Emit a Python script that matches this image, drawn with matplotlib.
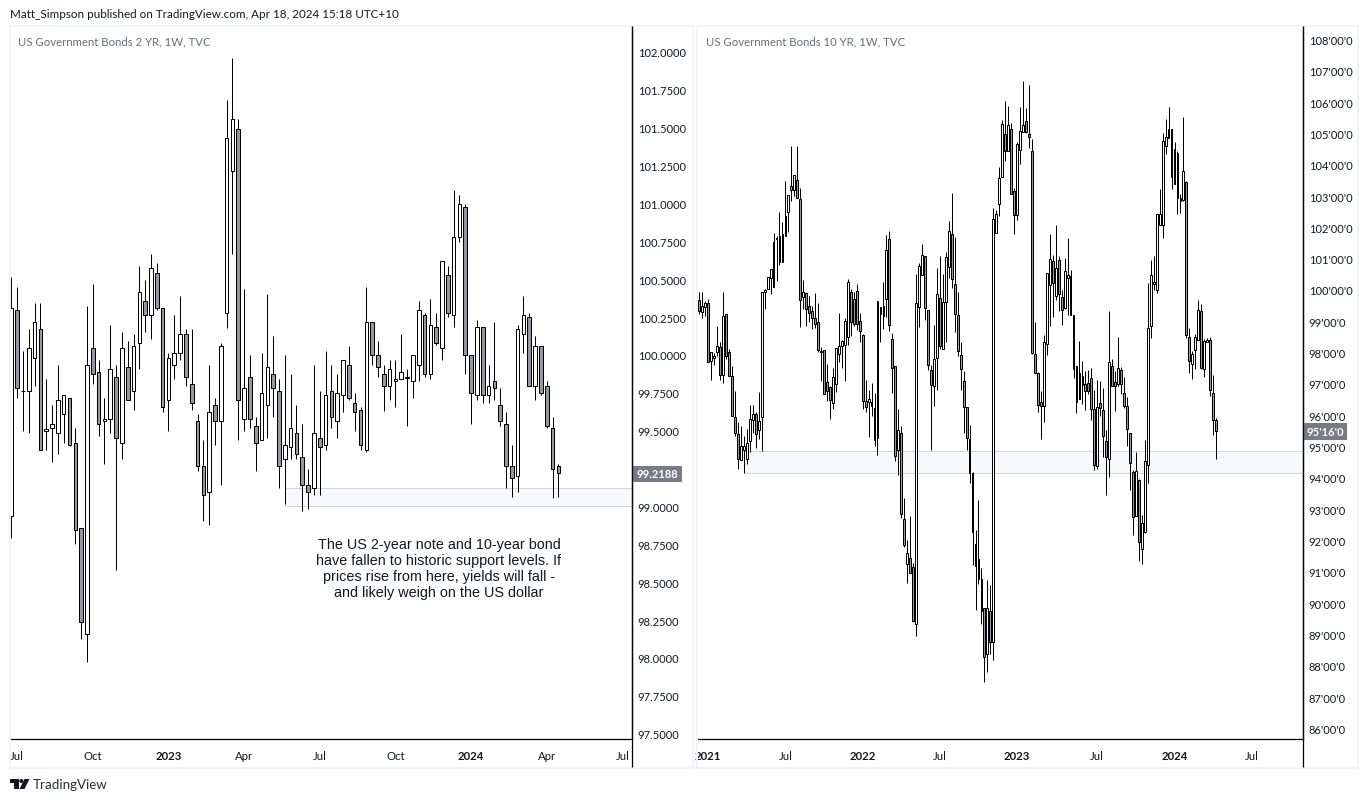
import matplotlib
matplotlib.use("Agg")
import matplotlib.pyplot as plt
from matplotlib.patches import Rectangle, Polygon, Circle

# ---- 2 YR weekly candles ----
high_2y = [100.513,100.447,100.026,100.172,100.341,100.341,99.842,99.67,99.934,99.734,
 99.714,99.518,98.856,100.323,100.469,99.967,99.716,100.198,99.934,100.152,
 100.092,100.139,100.587,100.495,100.667,100.607,100.308,100.011,100.264,100.389,
 100.172,100.172,99.611,99.439,99.934,99.716,100.079,101.683,101.96,101.558,
 100.436,100,99.589,100.013,100.403,100.125,99.842,100,99.875,99.67,
 99.545,99.248,99.934,99.762,100.026,99.934,99.875,99.965,100.059,99.749,
 99.655,100.449,100.216,100.092,99.934,99.967,99.967,100.139,99.908,99.998,
 100.356,100.275,100.367,100.275,100.618,100.585,101.089,101.056,100.997,99.998,
 100.231,100.183,99.934,100.218,99.782,99.624,99.406,100.198,100.389,100.275,
 100.125,100.057,99.828,99.591,99.281]
top_2y = [100.308,100.295,99.76,100.044,100.216,100.169,99.514,99.542,99.701,99.734,
 99.714,99.417,98.856,99.932,100.044,99.886,99.575,99.905,99.853,100.044,
 99.919,100.057,100.414,100.354,100.572,100.539,100.308,99.978,100.011,100.136,
 100.136,99.806,99.562,99.265,99.622,99.668,100.057,101.43,101.555,101.489,
 99.78,99.853,99.529,99.747,99.919,99.872,99.76,99.404,99.516,99.483,
 99.325,99.14,99.483,99.45,99.734,99.76,99.747,99.965,99.932,99.681,
 99.635,100.216,100.216,99.998,99.872,99.905,99.839,99.886,99.853,99.998,
 100.295,100.262,100.196,100.183,100.618,100.526,100.777,100.994,100.975,99.998,
 100.183,100.183,99.793,99.826,99.668,99.542,99.265,100.169,100.262,100.249,
 100.057,100.057,99.793,99.516,99.265]
bottom_2y = [98.935,99.78,99.76,99.76,99.978,99.371,99.496,99.516,99.483,99.608,
 99.404,98.843,98.236,98.156,99.872,99.542,99.562,99.575,99.45,99.417,
 99.701,99.76,100.077,100.262,100.262,100.308,99.655,99.701,99.932,100.011,
 99.853,99.681,99.265,99.074,99.094,99.562,99.562,100.275,101.212,99.701,
 99.575,99.575,99.417,99.437,99.668,99.78,99.265,99.311,99.391,99.344,
 99.14,99.094,99.12,99.391,99.404,99.589,99.562,99.734,99.714,99.622,
 99.404,99.371,99.998,99.919,99.793,99.793,99.826,99.839,99.85,99.826,
 99.932,99.872,99.872,100.077,100.044,100.275,100.262,100.777,99.998,99.747,
 99.734,99.734,99.734,99.78,99.562,99.265,99.186,99.199,100.136,99.793,
 99.793,99.747,99.529,99.245,99.219]
low_2y = [98.79,99.718,99.501,99.487,99.798,99.371,99.375,99.296,99.349,99.421,
 99.397,98.755,98.128,97.976,99.811,99.468,99.283,99.487,98.583,99.316,
 99.701,99.639,99.91,100.154,100.108,100.299,99.626,99.501,99.844,99.969,
 99.798,99.639,99.237,98.907,98.88,99.408,99.144,100.176,100.669,99.441,
 99.501,99.52,99.237,99.437,99.454,99.593,99.124,99.019,99.316,99.316,
 98.973,98.986,99.078,99.078,99.375,99.52,99.454,99.626,99.705,99.501,
 99.375,99.362,99.934,99.855,99.628,99.705,99.659,99.839,99.534,99.718,
 99.831,99.857,99.844,100.064,99.969,100.253,100.187,100.746,99.875,99.547,
 99.705,99.685,99.685,99.705,99.531,99.124,99.065,99.098,100.015,99.793,
 99.705,99.738,99.52,99.054,99.065]
up_weeks_2y = [0,2,3,4,6,7,8,9,13,16,17,19,21,22,24,27,28,29,34,36,37,38,40,43,44,47,48,
 52,54,56,57,61,65,66,67,68,69,70,72,74,76,77,80,82,87,88,90]

# ---- 10 YR weekly candles ----
high_10y = [99.93,99.94,99.66,99.71,98.01,97.99,98.86,98.33,99.94,99.22,
 98.12,97.56,96.77,95.77,95.67,95.35,95.56,96.33,96.33,96.11,
 96.73,99.94,100.03,100.40,100.67,101.82,101.71,102.48,102.16,103.48,
 103.03,104.59,103.68,104.61,103.25,100.32,99.93,99.82,99.50,99.90,
 99.58,98.17,98.09,97.64,96.92,97.52,98.14,99.27,98.40,99.10,
 100.35,100.03,99.93,100.19,99.27,98.58,97.13,96.81,97.03,96.70,
 99.64,99.47,100.24,101.76,101.88,98.63,97.56,96.20,95.65,93.36,
 92.02,92.78,91.28,100.51,100.85,101.47,101.10,99.36,97.60,98.88,
 100.71,101.10,100.52,101.22,102.21,103.11,101.70,99.94,98.34,97.42,
 96.26,95.70,94.19,92.35,93.30,91.12,89.85,90.73,90.58,102.62,
 102.57,103.92,105.43,106.03,105.88,105.33,103.27,104.71,105.84,106.67,
 105.81,106.54,104.81,98.98,97.38,96.76,98.57,100.54,101.79,101.13,
 102.08,101.10,100.01,101.01,101.66,100.65,99.21,97.57,98.38,97.72,
 97.42,97.44,97.52,96.80,97.12,97.08,96.87,95.54,99.34,97.80,
 97.42,98.51,97.54,97.21,96.58,95.45,94.24,94.84,93.96,92.83,
 95.22,100.22,100.97,101.08,102.42,103.21,105.00,105.45,105.83,105.13,
 104.72,104.43,103.08,105.53,103.47,98.79,98.04,98.60,99.69,99.56,
 98.44,98.47,98.49,97.28,95.92]
top_10y = [99.69,99.48,99.57,99.57,98.01,97.90,98.20,98.17,99.16,99.22,
 98.01,97.27,95.93,95.39,95.01,95.03,95.10,95.87,96.03,96.03,
 95.81,99.94,100.00,100.40,100.67,101.52,101.66,101.71,101.78,102.37,
 103.03,103.31,103.66,103.52,102.91,99.93,99.89,99.48,99.32,99.10,
 98.97,98.06,98.08,97.05,96.89,97.21,98.14,98.22,98.36,99.00,
 100.24,99.93,99.71,99.96,99.00,98.56,96.45,96.51,96.41,96.22,
 99.64,99.45,99.48,101.28,101.63,98.43,97.56,95.52,95.45,92.68,
 91.60,91.43,91.14,99.57,100.76,101.13,101.09,99.35,97.44,97.79,
 99.88,99.75,99.62,101.04,101.88,101.79,100.19,99.21,97.92,97.08,
 96.26,95.25,94.17,91.89,91.40,90.76,89.84,89.84,89.75,102.26,
 102.42,103.57,105.29,104.98,105.26,105.13,103.15,104.66,105.07,105.26,
 105.39,104.97,104.45,97.95,97.36,96.42,98.33,100.53,100.98,100.92,
 100.71,100.95,99.78,100.60,100.47,100.44,99.20,97.56,97.34,97.25,
 96.99,97.02,97.19,96.21,96.26,96.39,96.16,95.19,97.70,97.57,
 97.06,97.52,97.45,96.71,96.29,95.43,94.19,94.21,93.92,92.55,
 94.53,98.78,100.47,100.26,102.42,102.42,104.77,104.88,105.13,105.13,
 104.49,104.39,102.93,103.80,103.44,98.49,97.97,98.49,99.35,99.33,
 98.36,98.40,98.40,96.71,95.85]
bottom_10y = [99.34,99.31,99.46,97.69,97.72,97.84,98.03,97.30,97.30,97.90,
 97.27,95.97,95.45,94.62,94.56,94.90,94.62,95.17,95.84,95.39,
 95.52,95.93,99.95,100.03,100.37,100.08,101.62,100.88,100.88,101.73,
 102.48,103.18,103.18,102.95,99.68,99.79,99.39,99.27,99.12,98.91,
 98.09,98.01,96.67,96.76,96.50,96.38,97.01,97.95,98.22,98.24,
 98.49,98.97,98.90,98.90,98.70,96.47,96.27,96.41,96.30,95.22,
 95.28,99.22,99.16,99.71,98.89,97.50,94.71,94.88,92.84,91.87,
 91.26,90.98,89.44,89.34,99.45,100.49,99.41,97.59,96.98,96.93,
 97.83,98.21,98.12,99.62,100.72,100.34,99.22,98.04,97.49,96.25,
 95.28,94.16,92.28,91.20,90.78,89.75,88.29,88.38,88.76,88.76,
 101.81,102.75,103.60,104.45,104.45,103.06,102.38,102.40,104.48,105.04,
 105.06,104.90,97.98,97.36,96.33,96.30,96.30,98.26,100.15,100.21,
 99.81,99.88,99.37,99.42,100.38,99.21,97.48,96.43,96.52,96.97,
 96.76,96.78,96.19,94.40,94.37,96.22,95.33,94.66,94.62,96.93,
 96.93,97.01,96.99,96.31,95.56,94.47,92.75,92.80,91.96,91.74,
 92.28,94.40,98.84,100.20,100.01,102.06,102.07,104.61,104.85,103.61,
 103.38,102.95,102.83,102.86,98.56,97.74,97.63,98.08,98.40,97.51,
 97.49,98.34,96.80,95.84,95.50]
low_10y = [99.23,99.12,99.18,97.69,97.14,97.60,97.90,97.14,97.04,97.80,
 97.27,95.97,95.35,94.28,94.56,94.16,94.43,94.82,95.45,94.97,
 95.24,94.87,99.39,100.03,99.88,100.08,100.30,100.80,100.88,101.73,
 101.86,102.85,103.01,102.93,98.83,99.39,98.86,98.97,98.75,98.78,
 98.03,97.09,96.67,96.47,95.89,96.20,96.73,97.71,97.51,97.10,
 98.24,98.52,98.86,98.71,98.33,96.20,96.11,95.32,95.99,95.03,
 94.74,98.33,98.75,99.13,98.70,96.71,94.55,94.10,92.72,91.79,
 90.65,90.98,89.39,88.96,98.83,100.49,99.05,97.46,94.88,96.31,
 96.80,98.12,98.12,98.34,100.39,100.06,98.67,97.88,96.80,95.45,
 94.88,93.85,91.23,89.78,90.62,89.33,87.48,87.80,88.37,88.19,
 101.81,102.35,103.60,104.11,104.45,103.06,101.80,102.25,104.02,105.04,
 105.00,104.53,97.95,97.36,96.12,95.25,95.80,97.94,98.85,99.13,
 99.69,99.33,98.87,99.40,99.21,99.21,97.19,96.06,96.52,96.35,
 96.16,96.67,95.84,94.24,94.30,95.98,94.66,93.44,94.04,96.93,
 96.13,96.93,96.67,96.22,95.01,93.63,92.19,92.80,91.35,91.25,
 92.25,93.85,98.47,100.01,99.92,102.06,101.65,104.33,104.85,103.21,
 103.37,102.44,102.47,102.85,98.47,97.34,97.17,97.47,98.39,97.49,
 97.22,98.34,96.61,95.37,94.60]
up_weeks_10y = [1,2,4,5,6,8,14,15,16,17,18,20,21,22,23,24,25,26,28,29,30,32,35,45,46,47,48,49,50,
 57,58,60,61,63,67,70,73,74,75,79,80,82,83,84,97,99,100,101,102,104,107,108,109,116,117,118,
 120,123,124,128,134,138,141,147,149,150,151,152,153,154,155,156,157,158,160,163,166,167,168,170,171]

# ---- axis text and levels ----
ticks_2y = [97.5,97.75,98.0,98.25,98.5,98.75,99.0,99.25,99.5,99.75,100.0,100.25,100.5,100.75,
 101.0,101.25,101.5,101.75,102.0]
ticks_10y = list(range(86, 109))
xpos_2y = [1,14,27,40,53,66,79,92,105]
xlab_2y = ["Jul","Oct","2023","Apr","Jul","Oct","2024","Apr","Jul"]
xpos_10y = [3,29,55,81,107,134,160,186]
xlab_10y = ["2021","Jul","2022","Jul","2023","Jul","2024","Jul"]
zone_2y = (47, 99.003, 99.122)
zone_10y = (15, 94.155, 94.86)

FONT = "Lato"
W, H = 1368, 803
TEXT = "#131722"
GREY = "#787b86"
DOWN = "#9598a1"
plt.rcParams["font.family"] = FONT
fig = plt.figure(figsize=(W/100, H/100), dpi=100, facecolor="white")


def panel(l, r, t, b):
    return fig.add_axes([l/W, 1-b/H, (r-l)/W, (b-t)/H])


def draw(ax, highs, tops, bottoms, lows, ups, width, zone, ticks, fmt, xpos, xlab):
    xs = list(range(len(highs)))
    ax.vlines(xs, lows, highs, colors="black", linewidth=0.72, zorder=3)
    face = ["white" if i in ups else DOWN for i in xs]
    ax.bar(xs, [t-b for t, b in zip(tops, bottoms)], bottom=bottoms, width=width,
           color=face, edgecolor="black", linewidth=0.72, zorder=4)
    x0 = zone[0]
    ax.add_patch(Rectangle((x0, zone[1]), ax.get_xlim()[1]-x0, zone[2]-zone[1],
                           facecolor="#f8f9fd", edgecolor="#d1d4dc", linewidth=0.72, zorder=1))
    ax.yaxis.tick_right()
    ax.set_yticks(ticks)
    ax.set_yticklabels([fmt(v) for v in ticks], fontsize=8, color=TEXT)
    ax.set_xticks(xpos)
    ax.set_xticklabels(xlab, fontsize=8.2, color=TEXT)
    for lab in ax.get_xticklabels():
        if lab.get_text().isdigit():
            lab.set_fontweight("bold")
    ax.tick_params(length=0, axis="y", pad=4.5)
    ax.tick_params(length=0, axis="x", pad=8)
    for s in ("top", "left"):
        ax.spines[s].set_visible(False)
    for s in ("right", "bottom"):
        ax.spines[s].set_linewidth(0.9)
        ax.spines[s].set_color("black")


# left: 5.82 px per week, first candle at 11.3 px; y: 151.5 px per point, 100 at 356 px
ax1 = panel(10.5, 631.5, 27, 740)
ax1.set_xlim((10.5-11.3)/5.82, (631.5-11.3)/5.82)
ax1.set_ylim(100-(740-356)/151.5, 100+(356-27)/151.5)
draw(ax1, high_2y, top_2y, bottom_2y, low_2y, set(up_weeks_2y), 0.62, zone_2y,
     ticks_2y, lambda v: f"{v:.4f}", xpos_2y, xlab_2y)

# right: 2.97 px per week, first candle at 699.3 px; y: 31.32 px per point, 95 at 447.6 px
ax2 = panel(698, 1302.5, 27, 740)
ax2.set_xlim((698-699.3)/2.97, (1302.5-699.3)/2.97)
ax2.set_ylim(95-(740-447.6)/31.32, 95+(447.6-27)/31.32)
draw(ax2, high_10y, top_10y, bottom_10y, low_10y, set(up_weeks_10y), 0.62, zone_10y,
     ticks_10y, lambda v: f"{v}'00'0", xpos_10y, xlab_10y)

# overlay in pixel coordinates for frames, titles, tags
ov = fig.add_axes([0, 0, 1, 1], zorder=10)
ov.set_xlim(0, W)
ov.set_ylim(H, 0)
ov.axis("off")
ov.patch.set_alpha(0)
for (x0, x1) in ((9.5, 693), (697, 1358)):
    ov.add_patch(Rectangle((x0, 27), x1-x0, 741.5, fill=False, edgecolor="#f0f3fa", linewidth=1.5))
for x in (631.5, 1302.5):
    ov.plot([x, x], [27, 768], color="black", lw=0.9, solid_capstyle="butt")

ov.text(10, 14, "Matt_Simpson published on TradingView.com, Apr 18, 2024 15:18 UTC+10",
        fontsize=8.4, color=TEXT, va="center", ha="left")
ov.text(18, 41.5, "US Government Bonds 2 YR, 1W, TVC", fontsize=8.2, color="#6a6d78", va="center")
ov.text(706, 41.5, "US Government Bonds 10 YR, 1W, TVC", fontsize=8.2, color="#6a6d78", va="center")

note = ("The US 2-year note and 10-year bond\nhave fallen to historic support levels. If\n"
        "prices rise from here, yields will fall -\nand likely weigh on the US dollar")
ov.text(439, 569, note, fontsize=10.4, family="Liberation Sans", color=TEXT, ha="center",
        va="center", linespacing=1.21)

# last-price tags
ov.add_patch(Rectangle((632, 467), 50, 15.5, facecolor=GREY, edgecolor="none"))
ov.text(657, 474.7, "99.2188", fontsize=8, color="white", ha="center", va="center", fontweight="bold")
ov.add_patch(Rectangle((1303, 424), 43.5, 17, facecolor=GREY, edgecolor="none"))
ov.text(1325, 432.7, "95'16'0", fontsize=8, color="white", ha="center", va="center", fontweight="bold")

# TradingView logo
c = "#131722"
ov.add_patch(Polygon([(10, 780), (18.5, 780), (18.5, 790), (14.2, 790), (14.2, 784), (10, 784)], color=c, lw=0))
ov.add_patch(Circle((21.3, 782), 2.0, color=c, lw=0))
ov.add_patch(Polygon([(24.5, 780), (29.5, 780), (24.5, 790), (19.5, 790)], color=c, lw=0))
ov.text(33, 785.5, "TradingView", fontsize=9.6, color="#2a2e39", va="center")

fig.savefig("out.png", dpi=100)
